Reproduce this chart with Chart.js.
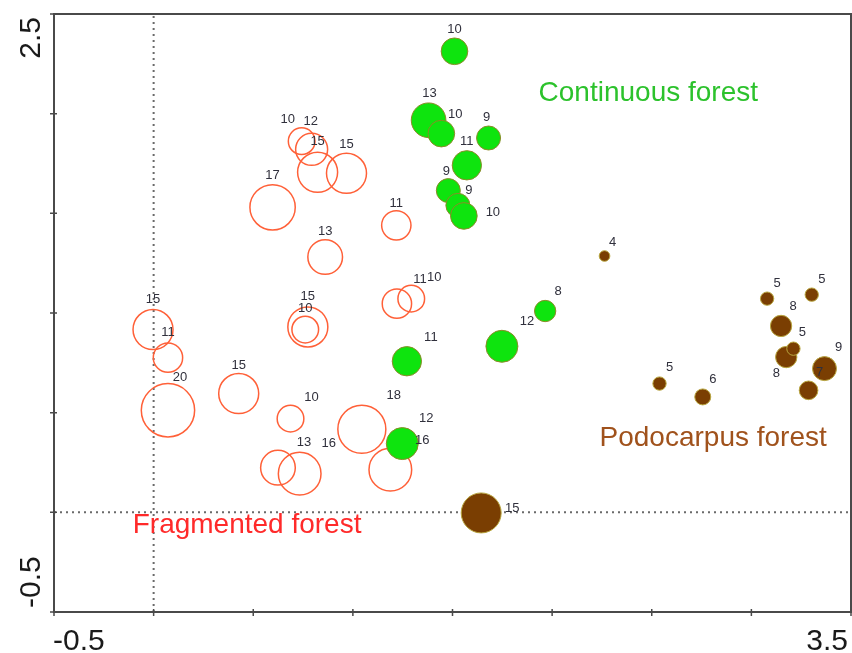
<!DOCTYPE html>
<html>
<head>
<meta charset="utf-8">
<script src="https://cdn.jsdelivr.net/npm/chart.js@4.4.1/dist/chart.umd.min.js"></script>
<style>
  body { margin: 0; background: #fff; }
  #wrap { width: 852px; height: 653px; }
</style>
</head>
<body>
<div id="wrap"><canvas id="ordination" width="852" height="653"></canvas></div>
<script>
// site scores (axis 1, axis 2) and species richness per plot
const fragX = [0.743, 0.793, 0.823, 0.968, 0.597, 0.861, 1.218, 1.221, 1.293, -0.003, 0.072, 0.072, 0.427, 0.774, 0.761, 0.687, 0.624, 0.733, 1.045, 1.188];
const fragY = [1.862, 1.821, 1.706, 1.701, 1.530, 1.281, 1.440, 1.047, 1.072, 0.917, 0.776, 0.512, 0.596, 0.930, 0.917, 0.470, 0.224, 0.194, 0.417, 0.214];
const fragN = [10, 12, 15, 15, 17, 13, 11, 11, 10, 15, 11, 20, 15, 15, 10, 10, 13, 16, 18, 16];

const contX = [1.510, 1.380, 1.444, 1.681, 1.572, 1.479, 1.527, 1.557, 1.271, 1.748, 1.965, 1.248];
const contY = [2.313, 1.967, 1.900, 1.878, 1.741, 1.614, 1.540, 1.487, 0.758, 0.833, 1.010, 0.345];
const contN = [10, 13, 10, 9, 11, 9, 9, 10, 11, 12, 8, 12];

const podoX = [2.263, 3.079, 3.303, 3.175, 3.149, 3.211, 3.367, 3.287, 2.539, 2.756, 1.644];
const podoY = [1.286, 1.072, 1.092, 0.779, 0.935, 0.821, 0.721, 0.612, 0.646, 0.579, -0.003];
const podoN = [4, 5, 5, 8, 8, 5, 9, 7, 5, 6, 15];

const groupNames = ['Fragmented forest', 'Continuous forest', 'Podocarpus forest'];
// where the group names sit, in axis units (left edge, middle)
const groupLabelX = [-0.105, 1.932, 2.238];
const groupLabelY = [-0.065, 2.102, 0.371];

const xTicks = [-0.5, 0, 0.5, 1, 1.5, 2, 2.5, 3, 3.5];
const xTickLabels = ['-0.5', '', '', '', '', '', '', '', '3.5'];
const yTicks = [-0.5, 0, 0.5, 1, 1.5, 2, 2.5];
const yTickLabels = ['-0.5', '', '', '', '', '', '2.5'];

// label nudges in px from the bubble centre (the original program moved some of them)
const fragLabelOff = [[-14,-22],[-1,-28],[0,-31],[0,-29],[0,-32],[0,-26],[0,-22],[23,-24],[23,-21],[0,-30],
                      [0,-25],[12,-33],[0,-28],[0,-31],[0,-21],[21,-21],[26,-25],[29,-30],[32,-34],[32,-29]];
const contLabelOff = [[0,-22],[1,-27],[14,-19],[-2,-21],[0,-24],[-2,-19],[11,-15],[29,-4],[24,-24],[25,-25],[13,-20],[24,-25]];
const podoLabelOff = [[8,-14],[10,-15],[10,-15],[-10,16],[12,-20],[9,-16],[14,-21],[11,-18],[10,-16],[10,-17],[31,-5]];

const FONT = '"Liberation Sans", Arial, sans-serif';
const pxPerSpecies = 4 / 3;   // bubble radius per species

function pts(xs, ys) {
    return xs.map((x, i) => ({ x: x, y: ys[i] }));
}
function radii(ns) {
    return ns.map(n => n * pxPerSpecies);
}

const decor = {
    id: 'decor',
    beforeDatasetsDraw(chart) {
        const ctx = chart.ctx;
        const a = chart.chartArea;
        const x0 = chart.scales.x.getPixelForValue(0);
        const y0 = chart.scales.y.getPixelForValue(0);
        ctx.save();
        ctx.strokeStyle = '#6a6a6a';
        ctx.lineWidth = 2;
        ctx.setLineDash([2, 4]);
        ctx.beginPath();
        ctx.moveTo(x0, a.top + 2);
        ctx.lineTo(x0, a.bottom);
        ctx.moveTo(a.left, y0);
        ctx.lineTo(a.right, y0);
        ctx.stroke();
        ctx.restore();
    },
    afterDatasetsDraw(chart) {
        const ctx = chart.ctx;
        const a = chart.chartArea;
        const sx = chart.scales.x, sy = chart.scales.y;
        ctx.save();

        // plot labels (richness) next to each bubble
        ctx.font = '13px ' + FONT;
        ctx.fillStyle = '#30303c';
        ctx.textAlign = 'center';
        ctx.textBaseline = 'middle';
        const counts = [fragN, contN, podoN];
        const offs = [fragLabelOff, contLabelOff, podoLabelOff];
        chart.data.datasets.forEach((ds, di) => {
            const meta = chart.getDatasetMeta(di);
            meta.data.forEach((pt, i) => {
                const o = offs[di][i];
                ctx.fillText(String(counts[di][i]), pt.x + o[0], pt.y + o[1]);
            });
        });

        // group names
        const nameColors = ['#ff2a2a', '#2cc22c', '#a0521c'];
        ctx.font = '28px ' + FONT;
        ctx.textAlign = 'left';
        groupNames.forEach((t, i) => {
            ctx.fillStyle = nameColors[i];
            ctx.fillText(t, sx.getPixelForValue(groupLabelX[i]), sy.getPixelForValue(groupLabelY[i]));
        });

        // frame
        ctx.strokeStyle = '#4a4a4a';
        ctx.lineWidth = 2;
        ctx.strokeRect(a.left, a.top, a.right - a.left, a.bottom - a.top);

        // tick marks crossing the left and bottom axes
        ctx.lineWidth = 1.5;
        ctx.beginPath();
        xTicks.forEach(v => {
            const px = sx.getPixelForValue(v);
            ctx.moveTo(px, a.bottom - 3);
            ctx.lineTo(px, a.bottom + 4);
        });
        yTicks.forEach(v => {
            const py = sy.getPixelForValue(v);
            ctx.moveTo(a.left - 4, py);
            ctx.lineTo(a.left + 3, py);
        });
        ctx.stroke();

        // tick labels
        ctx.fillStyle = '#1a1a1a';
        ctx.font = '30px ' + FONT;
        ctx.textBaseline = 'alphabetic';
        xTicks.forEach((v, i) => {
            if (!xTickLabels[i]) return;
            ctx.textAlign = i === 0 ? 'left' : 'right';
            const px = sx.getPixelForValue(v);
            ctx.fillText(xTickLabels[i], i === 0 ? px - 1 : px - 3, 650);
        });
        yTicks.forEach((v, i) => {
            if (!yTickLabels[i]) return;
            const py = sy.getPixelForValue(v);
            ctx.save();
            ctx.translate(40, i === 0 ? py - 4 : py + 3);
            ctx.rotate(-Math.PI / 2);
            ctx.textAlign = i === 0 ? 'left' : 'right';
            ctx.fillText(yTickLabels[i], 0, 0);
            ctx.restore();
        });
        ctx.restore();
    }
};

new Chart(document.getElementById('ordination').getContext('2d'), {
    type: 'scatter',
    data: {
        datasets: [
            {
                label: groupNames[0],
                data: pts(fragX, fragY),
                pointRadius: radii(fragN),
                pointBackgroundColor: 'rgba(255,255,255,0)',
                pointBorderColor: '#ff6038',
                pointBorderWidth: 1.5,
                order: 3
            },
            {
                label: groupNames[1],
                data: pts(contX, contY),
                pointRadius: radii(contN),
                pointBackgroundColor: '#0ee40e',
                pointBorderColor: '#8c8a28',
                pointBorderWidth: 1,
                order: 2
            },
            {
                label: groupNames[2],
                data: pts(podoX, podoY),
                pointRadius: radii(podoN),
                pointBackgroundColor: '#7a3e02',
                pointBorderColor: '#b8a640',
                pointBorderWidth: 1,
                order: 1
            }
        ]
    },
    options: {
        responsive: false,
        animation: false,
        layout: { autoPadding: false, padding: { left: 54, top: 14, right: 1, bottom: 41 } },
        plugins: {
            legend: { display: false },
            tooltip: { enabled: false }
        },
        elements: { point: { hoverRadius: 0 } },
        scales: {
            x: { type: 'linear', min: -0.5, max: 3.5, display: false },
            y: { type: 'linear', min: -0.5, max: 2.5, display: false }
        }
    },
    plugins: [decor]
});
</script>
</body>
</html>
